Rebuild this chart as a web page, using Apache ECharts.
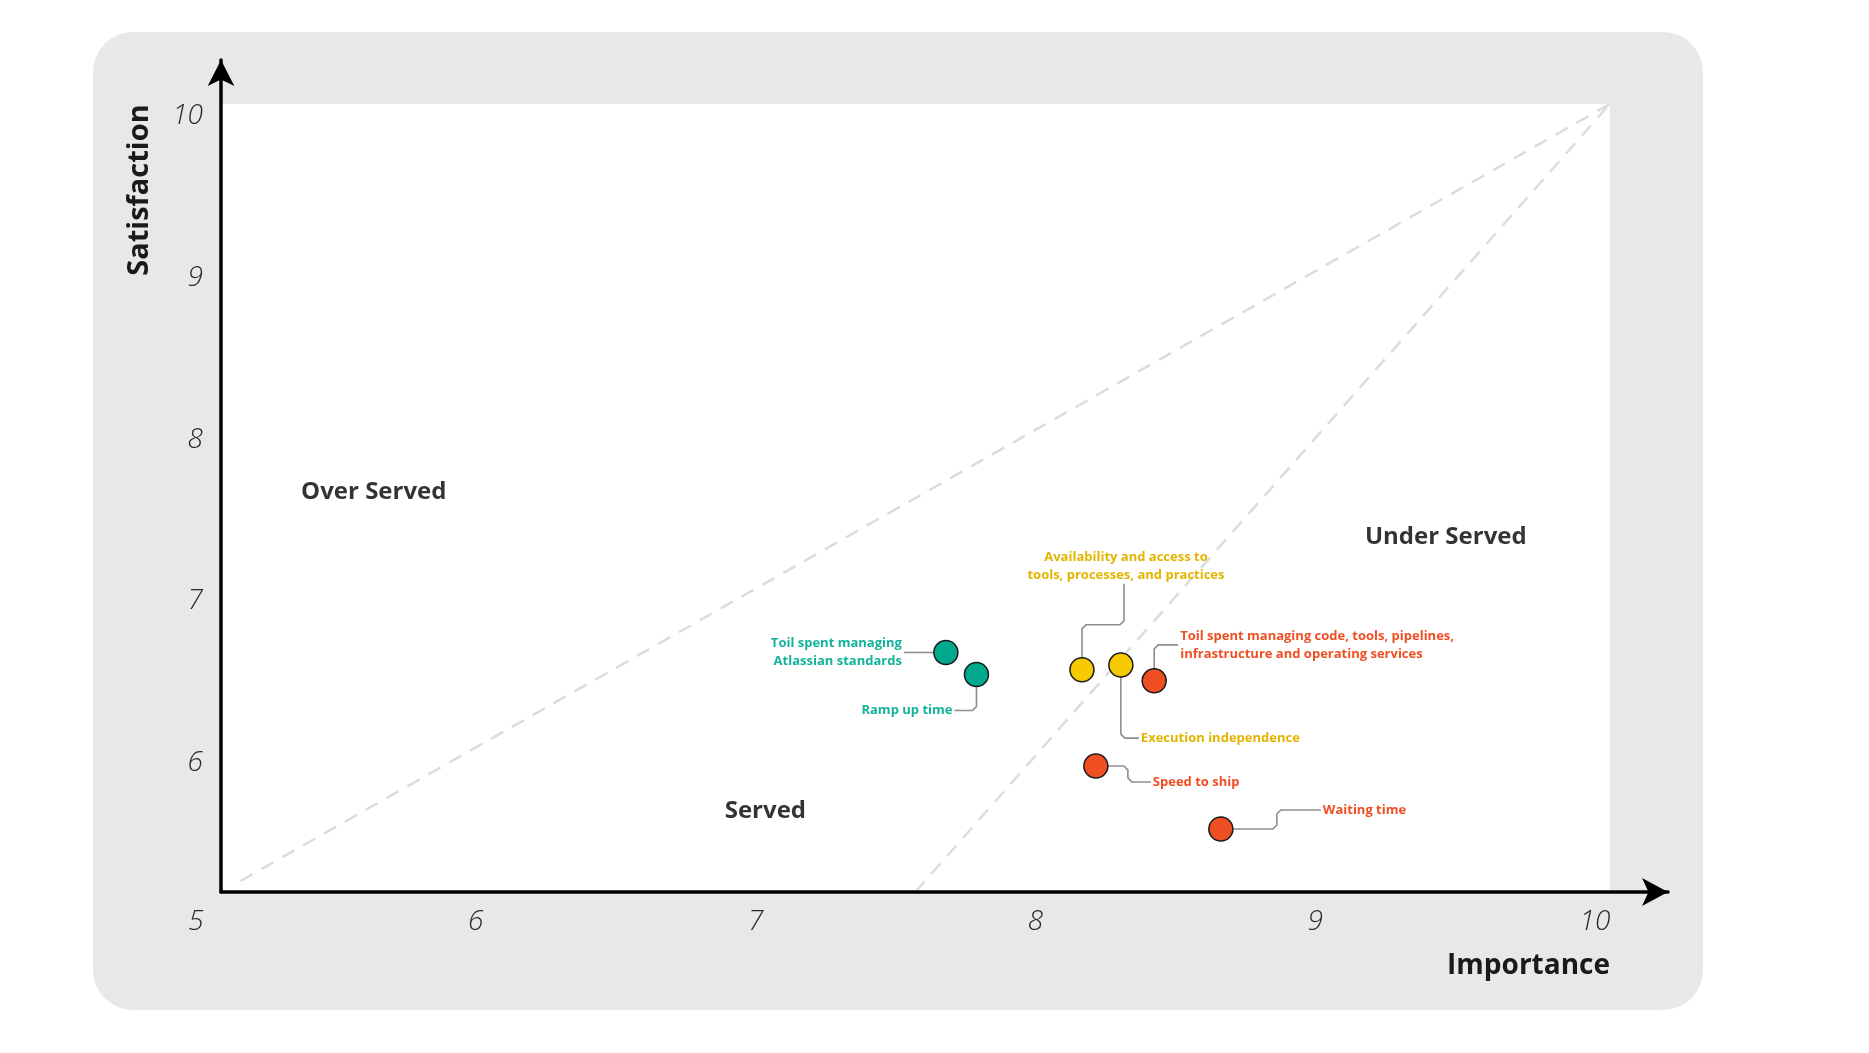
<!DOCTYPE html>
<html>
<head>
<meta charset="utf-8">
<script src="https://cdn.jsdelivr.net/npm/echarts@6/dist/echarts.min.js"></script>
<style>
  html, body { margin: 0; padding: 0; background: #fff; }
  #chart { width: 1869px; height: 1053px; }
</style>
</head>
<body>
<div id="chart"></div>
<script>
// values
var itemNames = [
    'Toil spent managing\nAtlassian standards',
    'Ramp up time',
    'Availability and access to\ntools, processes, and practices',
    'Execution independence',
    'Toil spent managing code, tools, pipelines,\ninfrastructure and operating services',
    'Speed to ship',
    'Waiting time'
];
var importance   = [7.61, 7.72, 8.10, 8.24, 8.36, 8.15, 8.60];
var satisfaction = [6.52, 6.38, 6.41, 6.44, 6.34, 5.80, 5.40];
var itemGroup    = ['teal', 'teal', 'yellow', 'yellow', 'red', 'red', 'red'];

var axisTicks = [5, 6, 7, 8, 9, 10];

var regionNames = ['Over Served', 'Served', 'Under Served'];
var regionX = [5.55, 6.96, 9.41];
var regionY = [7.54, 5.51, 7.25];

var overServedEdge  = [[5.07, 5.07], [10, 10]];
var underServedEdge = [[7.5, 5], [10, 10]];

// styles
var dotColor  = { teal: '#00a88e', yellow: '#f6c900', red: '#f04e23' };
var textColor = { teal: '#13b39b', yellow: '#e3b500', red: '#f04e23' };

// callout shapes, pixel offsets from the dot centre
var callouts = [
    { path: [[-12, 0], [-42, 0]],                         text: [-44, 0],   align: 'right' },
    { path: [[0, 12], [0, 36], [-22, 36]],                text: [-24, 36],  align: 'right' },
    { path: [[0, -12], [0, -45], [42, -45], [42, -86]],   text: [44, -104], align: 'center' },
    { path: [[0, 12], [0, 73], [18, 73]],                 text: [20, 73],   align: 'left' },
    { path: [[0, -12], [0, -36], [24, -36]],              text: [26, -36],  align: 'left' },
    { path: [[12, 0], [32, 0], [32, 16], [55, 16]],       text: [57, 16],   align: 'left' },
    { path: [[12, 0], [56, 0], [56, -19], [100, -19]],    text: [102, -19], align: 'left' }
];

// round the corners of a leader line a little
function soften(pts, r) {
    var out = [pts[0]];
    for (var i = 1; i < pts.length - 1; i++) {
        var p = pts[i], a = pts[i - 1], b = pts[i + 1];
        var d1 = Math.hypot(p[0] - a[0], p[1] - a[1]) || 1;
        var d2 = Math.hypot(b[0] - p[0], b[1] - p[1]) || 1;
        out.push([p[0] - (p[0] - a[0]) / d1 * r, p[1] - (p[1] - a[1]) / d1 * r]);
        out.push([p[0] + (b[0] - p[0]) / d2 * r, p[1] + (b[1] - p[1]) / d2 * r]);
    }
    out.push(pts[pts.length - 1]);
    return out;
}

var chart = echarts.init(document.getElementById('chart'));

var points = importance.map(function (x, i) {
    return {
        value: [x, satisfaction[i]],
        itemStyle: { color: dotColor[itemGroup[i]] }
    };
});

var labelFont = {
    color: '#2a2a2a',
    fontFamily: 'Open Sans',
    fontStyle: 'italic',
    fontWeight: 300,
    fontSize: 28
};

option = {
    backgroundColor: '#ffffff',
    animation: false,
    graphic: [
        {
            type: 'rect',
            z: -100,
            shape: { x: 93, y: 32, width: 1610, height: 978, r: 40 },
            style: { fill: '#e8e8e8' }
        },
        {
            type: 'text',
            z: 100,
            x: 140, y: 190,
            rotation: Math.PI / 2,
            style: {
                text: 'Satisfaction',
                fill: '#1a1a1a',
                font: 'bold 29px "Open Sans"',
                align: 'center',
                verticalAlign: 'middle'
            }
        },
        {
            type: 'text',
            z: 100,
            x: 1610, y: 966,
            style: {
                text: 'Importance',
                fill: '#1a1a1a',
                font: 'bold 28px "Open Sans"',
                align: 'right',
                verticalAlign: 'middle'
            }
        }
    ],
    grid: [
        { left: 221, right: 201, top: 60, bottom: 161 },
        { left: 196, right: 274, top: 116, bottom: 128 }
    ],
    xAxis: [
        {
            gridIndex: 0, type: 'value', min: 5, max: 10.21, z: 10,
            axisLine: { show: true, symbol: ['none', 'arrow'], symbolSize: [21, 26],
                        lineStyle: { color: '#000', width: 3.5 } },
            axisTick: { show: false }, axisLabel: { show: false }, splitLine: { show: false }
        },
        {
            gridIndex: 1, type: 'value', min: 5, max: 10, interval: 1,
            axisLine: { show: false }, axisTick: { show: false }, splitLine: { show: false },
            axisLabel: Object.assign({ margin: -3, verticalAlign: 'middle' }, labelFont)
        }
    ],
    yAxis: [
        {
            gridIndex: 0, type: 'value', min: 5, max: 10.28, z: 10,
            axisLine: { show: true, symbol: ['none', 'arrow'], symbolSize: [20, 26],
                        lineStyle: { color: '#000', width: 3.5 } },
            axisTick: { show: false }, axisLabel: { show: false }, splitLine: { show: false }
        },
        {
            gridIndex: 1, type: 'value', min: 5, max: 10, interval: 1,
            axisLine: { show: false }, axisTick: { show: false }, splitLine: { show: false },
            axisLabel: Object.assign({
                margin: -7, align: 'right',
                formatter: function (v) { return v === axisTicks[0] ? '' : String(v); }
            }, labelFont)
        }
    ],
    series: [
        {
            // white plot area
            type: 'line', z: 1, data: [], silent: true,
            markArea: {
                silent: true,
                itemStyle: { color: '#ffffff' },
                data: [[{ coord: [5, 5] }, { coord: [10, 10] }]]
            }
        },
        {
            type: 'line', z: 2, data: overServedEdge, symbol: 'none', silent: true,
            lineStyle: { color: '#dcdcdc', width: 2.5, type: [14, 10] }
        },
        {
            type: 'line', z: 2, data: underServedEdge, symbol: 'none', silent: true,
            lineStyle: { color: '#dcdcdc', width: 2.5, type: [14, 10] }
        },
        {
            type: 'scatter', z: 3, silent: true, symbolSize: 1,
            itemStyle: { color: 'rgba(0,0,0,0)' },
            data: regionX.map(function (x, i) { return { name: regionNames[i], value: [x, regionY[i]] }; }),
            label: {
                show: true, position: 'inside', formatter: '{b}',
                color: '#000', textBorderWidth: 0,
                fontFamily: 'Open Sans', fontWeight: 'bold', fontSize: 24
            }
        },
        {
            // leader lines and their texts
            type: 'custom', z: 4, silent: true,
            data: importance.map(function (x, i) { return [x, satisfaction[i]]; }),
            renderItem: function (params, api) {
                var i = params.dataIndex;
                var c = api.coord([api.value(0), api.value(1)]);
                var co = callouts[i];
                var pts = co.path.map(function (p) { return [c[0] + p[0], c[1] + p[1]]; });
                return {
                    type: 'group',
                    children: [
                        {
                            type: 'polyline',
                            shape: { points: soften(pts, 4) },
                            style: { stroke: '#8e8e8e', lineWidth: 1.6, fill: null }
                        },
                        {
                            type: 'text',
                            x: c[0] + co.text[0], y: c[1] + co.text[1],
                            style: {
                                text: itemNames[i],
                                fill: textColor[itemGroup[i]],
                                font: 'bold 13px "Open Sans"',
                                lineHeight: 18,
                                align: co.align,
                                verticalAlign: 'middle'
                            }
                        }
                    ]
                };
            }
        },
        {
            type: 'scatter', z: 5, silent: true,
            symbolSize: 24,
            itemStyle: { borderColor: '#1a1a1a', borderWidth: 1.5, opacity: 1 },
            data: points
        }
    ]
};
chart.setOption(option);
</script>
</body>
</html>
